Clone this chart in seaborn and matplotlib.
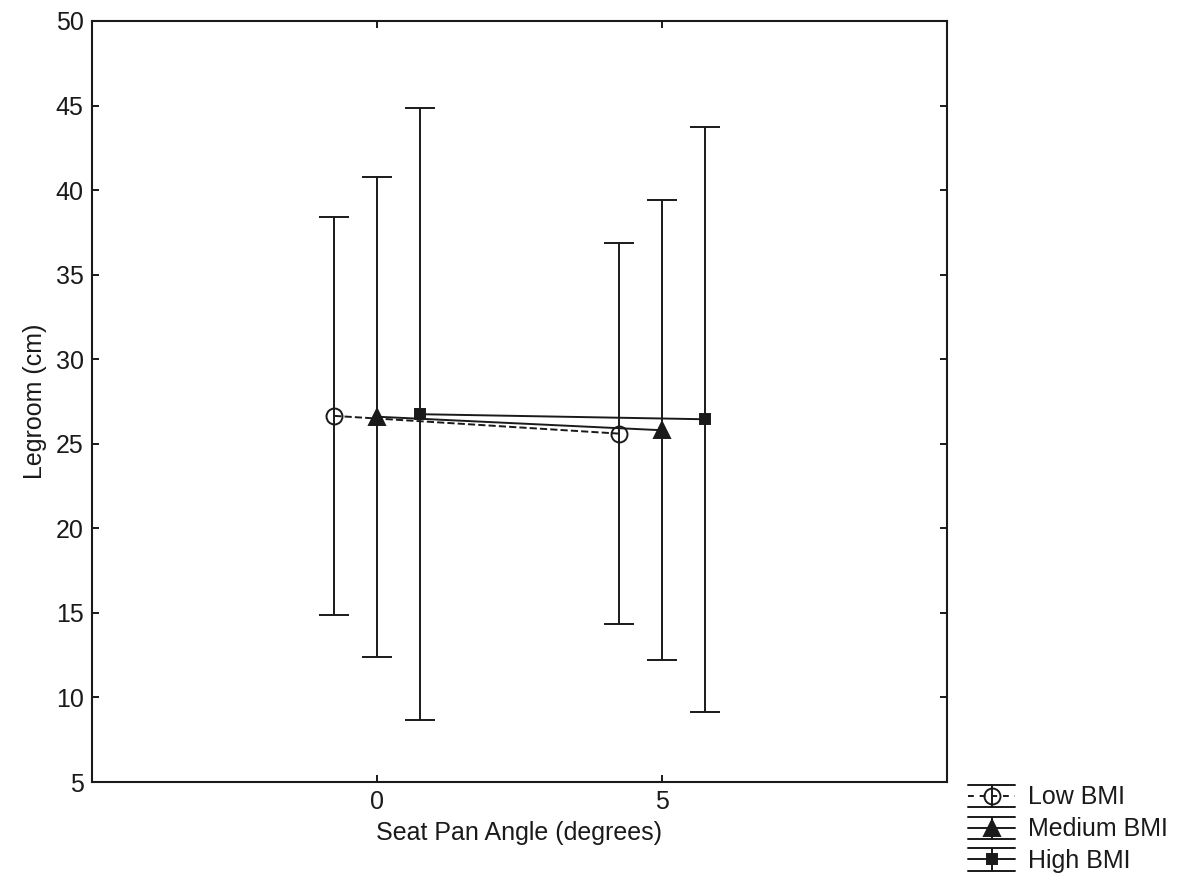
import numpy as np
import pandas as pd
import matplotlib
matplotlib.use("Agg")
import matplotlib.pyplot as plt
from matplotlib.lines import Line2D
from matplotlib.legend_handler import HandlerBase
import seaborn as sns

# ---- data ----
angles = [0, 5]
groups = ["Low BMI", "Medium BMI", "High BMI"]
mean_low = [26.65, 25.6]
mean_medium = [26.6, 25.8]
mean_high = [26.75, 26.45]
err_low = [11.75, 11.25]
err_medium = [14.2, 13.6]
err_high = [18.1, 17.3]
x_ticks = [0, 5]
y_ticks = [5, 10, 15, 20, 25, 30, 35, 40, 45, 50]

sns.set_theme(style="white")
plt.rcParams['font.family'] = ['Liberation Sans', 'DejaVu Sans']
plt.rcParams.update({"text.color": "k", "axes.labelcolor": "k",
                     "xtick.color": "k", "ytick.color": "k",
                     "axes.edgecolor": "k"})

fig = plt.figure(figsize=(11.85, 8.77), dpi=100)
ax = fig.add_axes([92/1185, 1-782/877, (947-92)/1185, (782-21)/877])

styles = {
    "Low BMI": dict(offset=-0.75, marker="o", ls="--", mfc="none", ms=11.5),
    "Medium BMI": dict(offset=0.0, marker="^", ls="-", mfc="k", ms=12),
    "High BMI": dict(offset=0.75, marker="s", ls="-", mfc="k", ms=7.5),
}
means = {"Low BMI": mean_low, "Medium BMI": mean_medium, "High BMI": mean_high}
errs = {"Low BMI": err_low, "Medium BMI": err_medium, "High BMI": err_high}

for g in groups:
    st = styles[g]
    xs = np.array(angles, dtype=float) + st["offset"]
    df = pd.DataFrame({"x": xs, "y": means[g]})
    ax.errorbar(xs, means[g], yerr=errs[g], fmt="none", ecolor="k",
                elinewidth=1.4, capsize=10.5, capthick=1.4, zorder=2)
    sns.lineplot(data=df, x="x", y="y", ax=ax, color="k", sort=False,
                 linestyle=st["ls"], linewidth=1.4, marker=st["marker"],
                 markerfacecolor=st["mfc"], markeredgecolor="k",
                 markeredgewidth=1.4, markersize=st["ms"], zorder=3)

ax.set_xlim(-5, 10)
ax.set_ylim(5, 50)
ax.set_xticks(x_ticks)
ax.set_yticks(y_ticks)
ax.tick_params(direction="in", length=5, width=1.4, top=True, right=True,
               bottom=True, left=True, labelsize=18, colors="k", pad=6)
for s in ax.spines.values():
    s.set_color("k")
    s.set_linewidth(1.5)
ax.set_xlabel("Seat Pan Angle (degrees)", fontsize=18, labelpad=5, color="k")
ax.set_ylabel("Legroom (cm)", fontsize=18, labelpad=6, color="k")
ax.grid(False)


class EBHandler(HandlerBase):
    def __init__(self, ls, marker, mfc, ms):
        super().__init__()
        self.ls, self.marker, self.mfc, self.ms = ls, marker, mfc, ms

    def create_artists(self, legend, orig_handle, xdescent, ydescent,
                       width, height, fontsize, trans):
        x0, y0 = -xdescent, -ydescent
        xc, yc = x0 + width / 2, y0 + height / 2
        arts = [
            Line2D([x0, x0 + width], [y0 + height] * 2, color="k", lw=1.4),
            Line2D([x0, x0 + width], [y0] * 2, color="k", lw=1.4),
            Line2D([x0, x0 + width], [yc] * 2, color="k", lw=1.4, ls=self.ls,
                   dashes=(3, 3) if self.ls == "--" else (None, None)),
            Line2D([xc, xc], [y0, y0 + height], color="k", lw=1.4),
            Line2D([xc], [yc], marker=self.marker, ms=self.ms, mfc=self.mfc,
                   mec="k", mew=1.4, ls="none"),
        ]
        for a in arts:
            a.set_transform(trans)
        return arts


handles = [Line2D([], []) for _ in groups]
hmap = {h: EBHandler(styles[g]["ls"], styles[g]["marker"], styles[g]["mfc"],
                     styles[g]["ms"]) for h, g in zip(handles, groups)}
leg = fig.legend(handles, groups, handler_map=hmap, loc="lower left",
                 bbox_to_anchor=(968/1185, 4/877), frameon=False, fontsize=18,
                 borderpad=0, borderaxespad=0, handlelength=1.9, handleheight=1.0,
                 handletextpad=0.5, labelspacing=0.28)
for t in leg.get_texts():
    t.set_color("k")

fig.savefig("out.png", dpi=100)
